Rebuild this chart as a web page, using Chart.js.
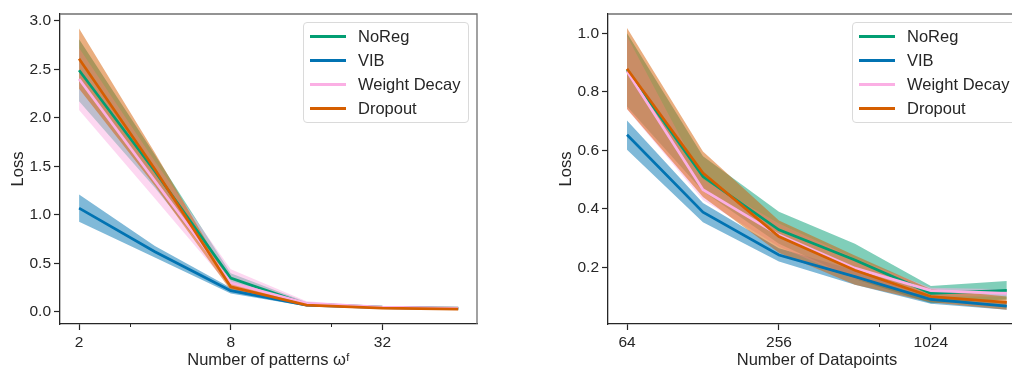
<!DOCTYPE html>
<html>
<head>
<meta charset="utf-8">
<script src="https://cdn.jsdelivr.net/npm/chart.js@4.4.0/dist/chart.umd.min.js"></script>
<style>
  html, body { margin: 0; padding: 0; background: #fff; overflow: hidden; }
  #wrap { position: relative; width: 1012px; height: 368px; overflow: hidden; }
  canvas { position: absolute; top: 0; }
  .legend {
    position: absolute;
    box-sizing: border-box;
    border: 1px solid #dadada;
    border-radius: 4px;
    background: rgba(255, 255, 255, 0.8);
    font-family: 'Liberation Sans', Arial, sans-serif;
    font-size: 16.5px;
    color: #262626;
    padding-top: 1px;
  }
  .legend .row { position: relative; height: 24px; line-height: 24px; white-space: nowrap; }
  .legend .swatch { position: absolute; left: 6px; top: 11px; width: 36px; height: 3px; }
  .legend .name { position: absolute; left: 54px; top: 0; }
</style>
</head>
<body>
<div id="wrap">
  <canvas id="patternsChart" width="500" height="375" style="left:0px"></canvas>
  <canvas id="datapointsChart" width="500" height="375" style="left:548px"></canvas>
  <div class="legend" id="patternsLegend" style="left:303px; top:22px; width:166px; height:101px"></div>
  <div class="legend" id="datapointsLegend" style="left:852px; top:22px; width:166px; height:101px"></div>
</div>
<script>
const seriesNames = ['NoReg', 'VIB', 'Weight Decay', 'Dropout'];
const seriesColors = ['#029e73', '#0173b2', '#fbafe4', '#d55e00'];
const bandColors = ['rgba(2,158,115,0.5)', 'rgba(1,115,178,0.5)', 'rgba(251,175,228,0.5)', 'rgba(213,94,0,0.5)'];

// left panel: loss vs number of patterns
const patternCounts = [2, 4, 8, 16, 32, 64];
const patternTicks = [2, 8, 32];
const patternMinorTicks = [3.2, 20];
const patternLossTicks = [0, 0.5, 1, 1.5, 2, 2.5, 3];

const patNoReg   = [2.49, 1.45, 0.35, 0.08, 0.05, 0.04];
const patNoRegLo = [2.17, 1.28, 0.30, 0.07, 0.045, 0.035];
const patNoRegHi = [2.81, 1.62, 0.40, 0.10, 0.055, 0.045];
const patVib     = [1.07, 0.62, 0.22, 0.07, 0.045, 0.035];
const patVibLo   = [0.93, 0.56, 0.19, 0.06, 0.04, 0.03];
const patVibHi   = [1.21, 0.68, 0.25, 0.08, 0.05, 0.04];
const patWd      = [2.40, 1.35, 0.30, 0.09, 0.05, 0.04];
const patWdLo    = [2.08, 1.17, 0.25, 0.08, 0.045, 0.035];
const patWdHi    = [2.72, 1.55, 0.44, 0.11, 0.055, 0.045];
const patDrop    = [2.61, 1.47, 0.26, 0.07, 0.04, 0.03];
const patDropLo  = [2.30, 1.30, 0.22, 0.06, 0.035, 0.025];
const patDropHi  = [2.92, 1.64, 0.30, 0.08, 0.045, 0.035];

// right panel: loss vs number of datapoints
const datapointCounts = [64, 128, 256, 512, 1024, 2048];
const datapointTicks = [64, 256, 1024];
const datapointMinorTicks = [640];
const datapointLossTicks = [0.2, 0.4, 0.6, 0.8, 1.0];

const dpNoReg   = [0.875, 0.51, 0.328, 0.225, 0.111, 0.121];
const dpNoRegLo = [0.75, 0.46, 0.28, 0.16, 0.077, 0.09];
const dpNoRegHi = [1.0, 0.58, 0.39, 0.28, 0.136, 0.153];
const dpVib     = [0.653, 0.388, 0.242, 0.168, 0.09, 0.067];
const dpVibLo   = [0.602, 0.354, 0.22, 0.14, 0.075, 0.055];
const dpVibHi   = [0.702, 0.42, 0.265, 0.19, 0.10, 0.08];
const dpWd      = [0.87, 0.465, 0.31, 0.197, 0.12, 0.111];
const dpWdLo    = [0.74, 0.43, 0.27, 0.16, 0.10, 0.10];
const dpWdHi    = [0.99, 0.50, 0.35, 0.23, 0.13, 0.125];
const dpDrop    = [0.879, 0.522, 0.305, 0.19, 0.10, 0.08];
const dpDropLo  = [0.741, 0.44, 0.25, 0.14, 0.08, 0.055];
const dpDropHi  = [1.018, 0.596, 0.36, 0.24, 0.125, 0.10];

const FONT = "'Liberation Sans', Arial, 'DejaVu Sans', sans-serif";
const INK = '#262626';

function points(xs, ys) {
    return xs.map((x, i) => ({ x: x, y: ys[i] }));
}

// bands go underneath every line, like fill_between vs plot zorder
function buildDatasets(xs, means, lows, highs) {
    const sets = [];
    means.forEach((m, i) => {
        sets.push({
            data: points(xs, highs[i]),
            borderWidth: 0,
            borderColor: 'transparent',
            pointRadius: 0,
            backgroundColor: bandColors[i],
            fill: '+1',
            order: 20 - i
        });
        sets.push({
            data: points(xs, lows[i]),
            borderWidth: 0,
            borderColor: 'transparent',
            pointRadius: 0,
            fill: false,
            order: 20 - i
        });
    });
    means.forEach((m, i) => {
        sets.push({
            label: seriesNames[i],
            data: points(xs, m),
            borderColor: seriesColors[i],
            borderWidth: 2.7,
            pointRadius: 0,
            fill: false,
            order: 10 - i
        });
    });
    return sets;
}

// grey top/right spines and small minor ticks on the x axis
const framePlugin = {
    id: 'frame',
    afterDraw(chart, args, opts) {
        const { ctx, chartArea: a } = chart;
        ctx.save();
        ctx.strokeStyle = '#707070';
        ctx.lineWidth = 1.3;
        ctx.beginPath();
        ctx.moveTo(a.left, a.top);
        ctx.lineTo(a.right, a.top);
        ctx.lineTo(a.right, a.bottom);
        ctx.stroke();
        ctx.strokeStyle = INK;
        ctx.lineWidth = 1;
        (opts.minor || []).forEach(v => {
            const px = Math.round(chart.scales.x.getPixelForValue(v)) + 0.5;
            ctx.beginPath();
            ctx.moveTo(px, a.bottom);
            ctx.lineTo(px, a.bottom + 3);
            ctx.stroke();
        });
        ctx.restore();
    }
};

function makeChart(id, cfg) {
    const ctx = document.getElementById(id).getContext('2d');
    return new Chart(ctx, {
        type: 'line',
        data: { datasets: buildDatasets(cfg.xs, cfg.means, cfg.lows, cfg.highs) },
        options: {
            responsive: false,
            animation: false,
            devicePixelRatio: 1,
            layout: { padding: { left: 0, top: 14, right: cfg.padRight, bottom: 0 } },
            plugins: {
                legend: { display: false },
                tooltip: { enabled: false },
                frame: { minor: cfg.minor }
            },
            scales: {
                x: {
                    type: 'logarithmic',
                    min: cfg.xMin,
                    max: cfg.xMax,
                    afterBuildTicks: axis => { axis.ticks = cfg.xTicks.map(v => ({ value: v })); },
                    afterFit: axis => { axis.height = 51; },
                    ticks: {
                        autoSkip: false,
                        maxRotation: 0,
                        padding: 3,
                        color: INK,
                        font: { size: 15.5, family: FONT },
                        callback: value => String(value)
                    },
                    grid: { drawOnChartArea: false, tickLength: 6, tickColor: INK, tickWidth: 1.2 },
                    border: { display: true, color: INK, width: 1.3 },
                    title: {
                        display: true,
                        text: cfg.xTitle,
                        color: INK,
                        font: { size: 16.5, family: FONT },
                        padding: { top: 0, bottom: 5 }
                    }
                },
                y: {
                    min: cfg.yMin,
                    max: cfg.yMax,
                    afterBuildTicks: axis => { axis.ticks = cfg.yTicks.map(v => ({ value: v })); },
                    afterFit: axis => { axis.width = 60; },
                    ticks: {
                        padding: 3,
                        color: INK,
                        font: { size: 15.5, family: FONT },
                        callback: value => Number(value).toFixed(1)
                    },
                    grid: { drawOnChartArea: false, tickLength: 6, tickColor: INK, tickWidth: 1.2 },
                    border: { display: true, color: INK, width: 1.3 },
                    title: {
                        display: true,
                        text: 'Loss',
                        color: INK,
                        font: { size: 16.5, family: FONT },
                        padding: { top: 9, bottom: 0 }
                    }
                }
            }
        },
        plugins: [framePlugin]
    });
}

function makeLegend(id) {
    const box = document.getElementById(id);
    seriesNames.forEach((name, i) => {
        const row = document.createElement('div');
        row.className = 'row';
        row.innerHTML = '<span class="swatch" style="background:' + seriesColors[i] + '"></span>' +
                        '<span class="name">' + name + '</span>';
        box.appendChild(row);
    });
}

document.addEventListener('DOMContentLoaded', () => {
    makeChart('patternsChart', {
        xs: patternCounts,
        means: [patNoReg, patVib, patWd, patDrop],
        lows: [patNoRegLo, patVibLo, patWdLo, patDropLo],
        highs: [patNoRegHi, patVibHi, patWdHi, patDropHi],
        xTicks: patternTicks,
        yTicks: patternLossTicks,
        minor: patternMinorTicks,
        xMin: 1.68, xMax: 76,
        yMin: -0.124, yMax: 3.07,
        padRight: 23,
        xTitle: 'Number of patterns \u03C9\u1DA0'
    });
    makeChart('datapointsChart', {
        xs: datapointCounts,
        means: [dpNoReg, dpVib, dpWd, dpDrop],
        lows: [dpNoRegLo, dpVibLo, dpWdLo, dpDropLo],
        highs: [dpNoRegHi, dpVibHi, dpWdHi, dpDropHi],
        xTicks: datapointTicks,
        yTicks: datapointLossTicks,
        minor: datapointMinorTicks,
        xMin: 53.8, xMax: 2440,
        yMin: 0.006, yMax: 1.066,
        padRight: 22,
        xTitle: 'Number of Datapoints'
    });
    makeLegend('patternsLegend');
    makeLegend('datapointsLegend');
});
</script>
</body>
</html>
